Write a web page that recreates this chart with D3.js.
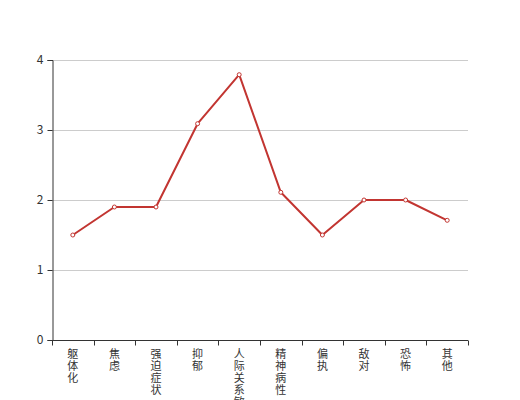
<!DOCTYPE html>
<html><head><meta charset="utf-8">
<script src="https://cdn.jsdelivr.net/npm/d3@7"></script>
<style>body{margin:0;background:#fff;}svg{display:block;}</style>
</head><body>
<svg id="c" width="520" height="400"></svg>
<script>
const categories = ["躯体化","焦虑","强迫症状","抑郁","人际关系敏感","精神病性","偏执","敌对","恐怖","其他"];
const values = [1.5,1.9,1.9,3.09,3.79,2.11,1.5,2.0,2.0,1.71];
const yTicks = [0,1,2,3,4];

const svg = d3.select("#c");
const m = {left:52, right:468, top:60, bottom:340};
const x = d3.scaleBand().domain(categories).range([m.left, m.right]);
const y = d3.scaleLinear().domain([0,4]).range([m.bottom, m.top]);
const font = "'Noto Sans CJK SC', 'Noto Sans', sans-serif";

// grid
svg.append("g").selectAll("line").data(yTicks.filter(d=>d>0)).join("line")
  .attr("x1", m.left).attr("x2", m.right)
  .attr("y1", d=>Math.round(y(d))+0.5).attr("y2", d=>Math.round(y(d))+0.5)
  .attr("stroke", "#ccc").attr("stroke-width", 1);

// y axis
const ya = svg.append("g").attr("transform", `translate(${m.left+0.5},0)`)
  .call(d3.axisLeft(y).tickValues(yTicks).tickSize(5).tickPadding(4).tickFormat(d3.format("d")));
ya.select(".domain").attr("stroke", "#333");
ya.selectAll(".tick line").attr("stroke", "#333");
ya.selectAll("text").attr("fill", "#333").style("font-family", font).style("font-size", "12px");

// x axis
const xg = svg.append("g").attr("transform", `translate(0,${m.bottom+0.5})`);
xg.append("line").attr("x1", m.left).attr("x2", m.right).attr("stroke", "#333");
const bounds = categories.map(c=>x(c)).concat([m.right]);
xg.selectAll("line.tk").data(bounds).join("line").attr("class","tk")
  .attr("x1", d=>Math.round(d)+0.5).attr("x2", d=>Math.round(d)+0.5)
  .attr("y1", 0).attr("y2", 5).attr("stroke", "#333");
const labels = xg.selectAll("text").data(categories).join("text")
  .attr("text-anchor", "middle").attr("fill", "#333")
  .style("font-family", font).style("font-size", "11px");
labels.each(function(d){
  const t = d3.select(this);
  const cx = x(d) + x.bandwidth()/2;
  Array.from(d).forEach((ch,i)=>{
    t.append("tspan").attr("x", cx).attr("y", 17 + i*12).text(ch);
  });
});

// line
const line = d3.line().x((d,i)=>x(categories[i])+x.bandwidth()/2).y(d=>y(d));
svg.append("path").datum(values).attr("d", line)
  .attr("fill","none").attr("stroke","#c23531").attr("stroke-width",2).attr("stroke-linejoin","round");
svg.append("g").selectAll("circle").data(values).join("circle")
  .attr("cx",(d,i)=>x(categories[i])+x.bandwidth()/2).attr("cy",d=>y(d)).attr("r",2)
  .attr("fill","#fff").attr("stroke","#c23531").attr("stroke-width",1);
</script>
</body></html>
